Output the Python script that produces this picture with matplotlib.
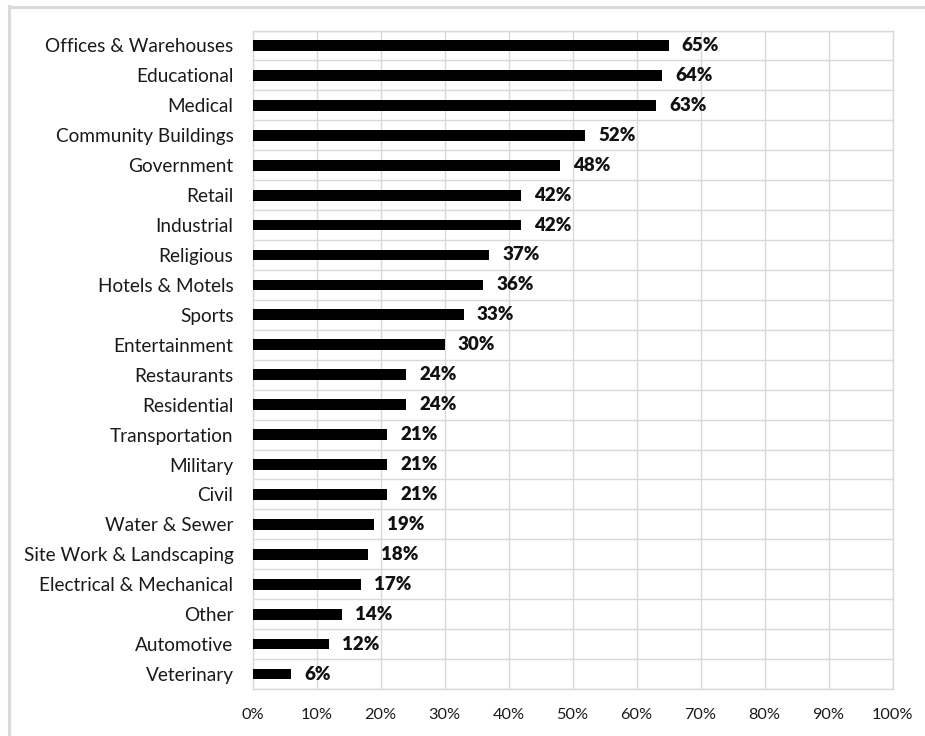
import matplotlib
matplotlib.use("Agg")
import matplotlib.pyplot as plt
from matplotlib.ticker import FixedLocator, PercentFormatter

categories = [
    "Offices & Warehouses", "Educational", "Medical", "Community Buildings",
    "Government", "Retail", "Industrial", "Religious", "Hotels & Motels",
    "Sports", "Entertainment", "Restaurants", "Residential", "Transportation",
    "Military", "Civil", "Water & Sewer", "Site Work & Landscaping",
    "Electrical & Mechanical", "Other", "Automotive", "Veterinary",
]
values = [65, 64, 63, 52, 48, 42, 42, 37, 36, 33, 30, 24, 24, 21, 21, 21,
          19, 18, 17, 14, 12, 6]
x_ticks = list(range(0, 101, 10))

plt.rcParams["font.family"] = ["Lato", "DejaVu Sans"]

W, H = 925, 736
fig = plt.figure(figsize=(W / 100, H / 100), dpi=100)
fig.patch.set_facecolor("white")

# outer frame (top and left edges)
fig.add_artist(plt.Line2D([8.5 / W, 8.5 / W], [0, 1 - 6 / H], transform=fig.transFigure,
                          color="#dadada", lw=2.2))
fig.add_artist(plt.Line2D([8.5 / W, 1], [1 - 6.5 / H, 1 - 6.5 / H], transform=fig.transFigure,
                          color="#dadada", lw=2.2))

left, right, top, bottom = 252.5 / W, 892.5 / W, 1 - 30.5 / H, 1 - 689 / H
ax = fig.add_axes([left, bottom, right - left, top - bottom])

n = len(categories)
ypos = list(range(n))
ax.barh(ypos, values, height=0.36, color="black", zorder=3)

for y, v in zip(ypos, values):
    ax.annotate(f"{v}%", (v, y), xytext=(9.5, 0), textcoords="offset points",
                va="center", ha="left", fontsize=13.5, fontweight="heavy",
                color="#111111")

ax.set_xlim(0, 100)
ax.set_ylim(n - 0.5, -0.5)
ax.xaxis.set_major_locator(FixedLocator(x_ticks))
ax.xaxis.set_major_formatter(PercentFormatter(decimals=0))
ax.set_yticks(ypos)
ax.set_yticklabels(categories)
ax.yaxis.set_minor_locator(FixedLocator([i - 0.5 for i in range(n + 1)]))

ax.grid(axis="x", which="major", color="#d9d9d9", lw=1, zorder=0)
ax.grid(axis="y", which="minor", color="#d9d9d9", lw=1, zorder=0)
for s in ax.spines.values():
    s.set_color("#d9d9d9")
    s.set_linewidth(1)

ax.tick_params(axis="both", which="both", length=0)
ax.tick_params(axis="y", labelsize=13.7, pad=13.7, colors="#1a1a1a")
ax.tick_params(axis="x", labelsize=11.7, pad=14, colors="#1a1a1a")

fig.savefig("out.png", dpi=100, facecolor="white")
